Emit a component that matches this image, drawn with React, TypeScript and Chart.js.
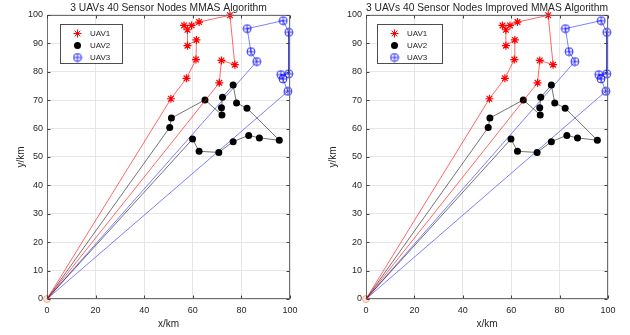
import React, { useEffect, useRef } from 'react';
import { Chart, registerables } from 'chart.js';

Chart.register(...registerables);

// ---------- data (km) ----------
const uav1X = [0, 51.0, 57.4, 61.3, 61.5, 57.8, 57.8, 56.4, 59.5, 62.6, 75.3, 77.3, 71.8, 70.9, 0];
const uav1Y = [0, 70.5, 77.7, 84.3, 91.2, 89.2, 94.8, 96.3, 96.3, 97.5, 99.9, 82.5, 84.0, 76.1, 0];

const uav2X = [0, 50.5, 51.2, 65.0, 72.0, 71.8, 72.2, 76.6, 78.0, 82.3, 95.6, 87.4, 83.0, 76.6, 70.7, 62.6, 59.9, 0];
const uav2Y = [0, 60.4, 63.7, 70.1, 64.8, 67.3, 71.0, 75.3, 69.0, 67.2, 55.9, 56.7, 57.6, 55.4, 51.6, 52.0, 56.3, 0];

const uav3X = [0, 86.3, 83.9, 82.4, 97.2, 99.5, 99.5, 96.2, 97.1, 99.1, 0];
const uav3Y = [0, 83.6, 87.1, 95.2, 98.0, 93.9, 79.3, 79.0, 77.5, 73.1, 0];

const originX = [0];
const originY = [0];

const seriesLabels = ['UAV1', 'UAV2', 'UAV3'];
const xTicks = [0, 20, 40, 60, 80, 100];
const yTicks = [0, 10, 20, 30, 40, 50, 60, 70, 80, 90, 100];
const plotTitles = [
  '3 UAVs 40 Sensor Nodes MMAS Algorithm',
  '3 UAVs 40 Sensor Nodes Improved MMAS Algorithm',
];
const xLabel = 'x/km';
const yLabel = 'y/km';

// ---------- styling ----------
const FONT = "'Liberation Sans', Arial, Helvetica, sans-serif";
const TEXT = '#262626';
const FRAME = '#6e6e6e';

const pts = (xs: number[], ys: number[]) => xs.map((x, i) => ({ x, y: ys[i] }));

function makeCirclePlus(color: string): HTMLCanvasElement {
  const c = document.createElement('canvas');
  c.width = 10;
  c.height = 10;
  const g = c.getContext('2d')!;
  g.strokeStyle = color;
  g.lineWidth = 1;
  g.beginPath();
  g.arc(5, 5, 4, 0, Math.PI * 2);
  g.stroke();
  g.beginPath();
  g.moveTo(5, 1);
  g.lineTo(5, 9);
  g.moveTo(1, 5);
  g.lineTo(9, 5);
  g.stroke();
  return c;
}

const hideEnds = (r: number) => (ctx: any) =>
  ctx.dataIndex === 0 || ctx.dataIndex === ctx.dataset.data.length - 1 ? 0 : r;

function drawMarker(ctx: CanvasRenderingContext2D, ds: any, x: number, y: number) {
  const style = ds.pointStyle;
  ctx.save();
  if (style && typeof style === 'object') {
    ctx.drawImage(style, x - style.width / 2, y - style.height / 2);
  } else if (style === 'star') {
    const r = 4;
    ctx.strokeStyle = ds.pointBorderColor;
    ctx.lineWidth = 1;
    ctx.beginPath();
    ctx.moveTo(x - r, y);
    ctx.lineTo(x + r, y);
    ctx.moveTo(x, y - r);
    ctx.lineTo(x, y + r);
    const d = r * Math.SQRT1_2;
    ctx.moveTo(x - d, y - d);
    ctx.lineTo(x + d, y + d);
    ctx.moveTo(x - d, y + d);
    ctx.lineTo(x + d, y - d);
    ctx.stroke();
  } else {
    ctx.fillStyle = ds.pointBackgroundColor;
    ctx.beginPath();
    ctx.arc(x, y, 3.5, 0, Math.PI * 2);
    ctx.fill();
  }
  ctx.restore();
}

const framePlugin = {
  id: 'matlabFrame',
  afterDatasetsDraw(chart: any) {
    const { ctx, chartArea: a, scales } = chart;
    ctx.save();
    ctx.strokeStyle = FRAME;
    ctx.lineWidth = 1;
    const L = Math.round(a.left) + 0.5;
    const R = Math.round(a.right) - 0.5;
    const T = Math.round(a.top) + 0.5;
    const B = Math.round(a.bottom) - 0.5;
    ctx.strokeRect(L, T, R - L, B - T);
    ctx.strokeStyle = '#404040';
    ctx.beginPath();
    scales.x.ticks.forEach((t: any) => {
      const px = Math.round(scales.x.getPixelForValue(t.value)) + 0.5;
      ctx.moveTo(px, B);
      ctx.lineTo(px, B - 3);
      ctx.moveTo(px, T);
      ctx.lineTo(px, T + 3);
    });
    scales.y.ticks.forEach((t: any) => {
      const py = Math.round(scales.y.getPixelForValue(t.value)) + 0.5;
      ctx.moveTo(L, py);
      ctx.lineTo(L + 3, py);
      ctx.moveTo(R, py);
      ctx.lineTo(R - 3, py);
    });
    ctx.stroke();
    ctx.restore();
  },
};

const legendPlugin = {
  id: 'boxLegend',
  afterDraw(chart: any, _args: any, opts: any) {
    const { ctx, chartArea: a } = chart;
    const x = Math.round(a.left + opts.dx);
    const y = Math.round(a.top + opts.dy);
    ctx.save();
    ctx.fillStyle = '#ffffff';
    ctx.fillRect(x, y, opts.w, opts.h);
    ctx.strokeStyle = '#4d4d4d';
    ctx.lineWidth = 1;
    ctx.strokeRect(x + 0.5, y + 0.5, opts.w, opts.h);
    ctx.font = `8px ${FONT}`;
    ctx.fillStyle = TEXT;
    ctx.textBaseline = 'middle';
    ctx.textAlign = 'left';
    const entries = chart.data.datasets.filter((d: any) => seriesLabels.includes(d.label));
    entries.forEach((ds: any, i: number) => {
      const cy = y + opts.rowTop + i * opts.rowGap;
      drawMarker(ctx, ds, x + opts.markerX, cy);
      ctx.fillText(ds.label, x + opts.textX, cy);
    });
    ctx.restore();
  },
};

interface PlotProps {
  title: string;
  left: number;
  axisWidth: number;
  yTitlePad: number;
  padRight: number;
  legend: { dx: number; dy: number; w: number; h: number };
}

function Plot({ title, left, axisWidth, yTitlePad, padRight, legend }: PlotProps) {
  const ref = useRef<HTMLCanvasElement>(null);

  useEffect(() => {
    const blueMarker = makeCirclePlus('rgba(0,0,255,0.8)');
    const chart = new Chart(ref.current!, {
      type: 'scatter',
      data: {
        datasets: [
          {
            label: seriesLabels[0],
            data: pts(uav1X, uav1Y),
            showLine: true,
            borderColor: 'rgba(255,0,0,0.6)',
            borderWidth: 1,
            pointStyle: 'star',
            pointRadius: hideEnds(4),
            pointBorderColor: '#ff0000',
            pointBackgroundColor: '#ff0000',
            pointBorderWidth: 1.2,
            clip: false,
          } as any,
          {
            label: seriesLabels[1],
            data: pts(uav2X, uav2Y),
            showLine: true,
            borderColor: 'rgba(0,0,0,0.55)',
            borderWidth: 1,
            pointStyle: 'circle',
            pointRadius: hideEnds(3.5),
            pointBorderColor: '#000000',
            pointBackgroundColor: '#000000',
            pointBorderWidth: 0,
            clip: false,
          } as any,
          {
            label: seriesLabels[2],
            data: pts(uav3X, uav3Y),
            showLine: true,
            borderColor: 'rgba(0,0,255,0.5)',
            borderWidth: 1,
            pointStyle: blueMarker,
            pointRadius: hideEnds(4),
            pointBorderColor: 'rgba(0,0,255,0.8)',
            pointBackgroundColor: 'rgba(0,0,0,0)',
            clip: false,
          } as any,
          {
            label: 'origin',
            data: pts(originX, originY),
            showLine: false,
            pointStyle: 'circle',
            pointRadius: 3.5,
            pointBorderColor: 'rgba(237,125,49,0.55)',
            pointBackgroundColor: 'rgba(244,177,131,0.3)',
            pointBorderWidth: 1,
            clip: false,
          } as any,
        ],
      },
      options: {
        responsive: false,
        devicePixelRatio: 1,
        animation: false,
        events: [],
        layout: { padding: { left: 0, right: padRight, top: 0, bottom: 0 } },
        plugins: {
          legend: { display: false },
          tooltip: { enabled: false },
          title: {
            display: true,
            text: title,
            fullSize: false,
            color: TEXT,
            font: { family: FONT, size: 10.3, weight: 'normal' as any, lineHeight: 1.2 },
            padding: { top: 1.5, bottom: 1.1 },
          },
          boxLegend: { ...legend, rowTop: 9.5, rowGap: 12, markerX: 17.5, textX: 30 },
        } as any,
        scales: {
          x: {
            type: 'linear',
            min: 0,
            max: 100,
            afterBuildTicks: (s: any) => {
              s.ticks = xTicks.map((v) => ({ value: v }));
            },
            afterFit: (s: any) => {
              s.height = 36;
            },
            grid: { color: '#e6e6e6', drawTicks: false, lineWidth: 1 },
            border: { display: false },
            ticks: {
              color: TEXT,
              padding: 6,
              maxRotation: 0,
              font: { family: FONT, size: 9 },
            },
            title: {
              display: true,
              text: xLabel,
              color: TEXT,
              font: { family: FONT, size: 10, lineHeight: 1.2 },
              padding: { top: 0, bottom: 5 },
            },
          },
          y: {
            type: 'linear',
            min: 0,
            max: 100,
            afterBuildTicks: (s: any) => {
              s.ticks = yTicks.map((v) => ({ value: v }));
            },
            afterFit: (s: any) => {
              s.width = axisWidth;
            },
            grid: { color: '#e6e6e6', drawTicks: false, lineWidth: 1 },
            border: { display: false },
            ticks: {
              color: TEXT,
              padding: 4,
              font: { family: FONT, size: 9 },
            },
            title: {
              display: true,
              text: yLabel,
              color: TEXT,
              font: { family: FONT, size: 10, lineHeight: 1.2 },
              padding: { top: yTitlePad, bottom: 0 },
            },
          },
        },
      },
      plugins: [framePlugin, legendPlugin],
    });
    return () => chart.destroy();
  }, []);

  return (
    <canvas
      ref={ref}
      width={315}
      height={335}
      style={{ position: 'absolute', left, top: 0, width: 315, height: 335 }}
    />
  );
}

export default function App() {
  return (
    <div
      style={{
        position: 'fixed',
        left: 0,
        top: 0,
        width: 630,
        height: 335,
        background: '#ffffff',
        overflow: 'hidden',
      }}
    >
      <Plot
        title={plotTitles[0]}
        left={0}
        axisWidth={47}
        yTitlePad={15}
        padRight={25}
        legend={{ dx: 13, dy: 9, w: 62, h: 39 }}
      />
      <Plot
        title={plotTitles[1]}
        left={315}
        axisWidth={51}
        yTitlePad={12}
        padRight={22}
        legend={{ dx: 11, dy: 9, w: 65, h: 39 }}
      />
    </div>
  );
}
